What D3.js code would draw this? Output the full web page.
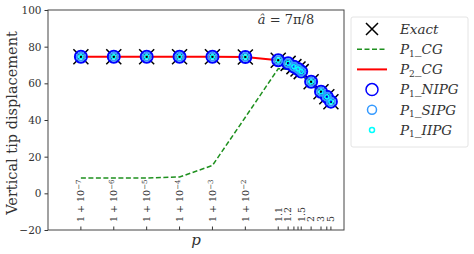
<!DOCTYPE html>
<html>
<head>
<meta charset="utf-8">
<script src="https://cdn.jsdelivr.net/npm/d3@7"></script>
<style>
  body { margin: 0; background: white; }
  text { font-family: "DejaVu Serif", serif; }
</style>
</head>
<body>
<div id="chart"></div>
<script>
// p - 1 for every sample point
var pm1 = [1e-7, 1e-6, 1e-5, 1e-4, 1e-3, 1e-2, 0.1, 0.2, 0.3, 0.4, 0.5, 1, 2, 3, 4];
var exact = [74.5, 74.5, 74.5, 74.5, 74.5, 74.4, 72.6, 70.9, 69.1, 67.8, 66.4, 60.9, 55.4, 52.7, 50.0];
var p1cg  = [8.3, 8.3, 8.4, 8.9, 15.2, 41.5, 68.0, 67.6, 66.7, 65.8, 64.8, 59.6, 54.3, 51.6, 49.0];
var p2cg  = [74.5, 74.5, 74.5, 74.5, 74.5, 74.4, 72.6, 70.9, 69.1, 67.8, 66.4, 60.9, 55.4, 52.7, 50.0];
var nipg  = [74.5, 74.5, 74.5, 74.5, 74.5, 74.4, 72.6, 70.9, 69.1, 67.8, 66.4, 60.9, 55.4, 52.7, 50.0];
var sipg  = [74.5, 74.5, 74.5, 74.5, 74.5, 74.4, 72.6, 70.9, 69.1, 67.8, 66.4, 60.9, 55.4, 52.7, 50.0];
var iipg  = [74.5, 74.5, 74.5, 74.5, 74.5, 74.4, 72.6, 70.9, 69.1, 67.8, 66.4, 60.9, 55.4, 52.7, 50.0];

// labelled ticks: exponent labels and plain p labels
var expTicks = [1e-7, 1e-6, 1e-5, 1e-4, 1e-3, 1e-2];
var expLabels = ["\u22127", "\u22126", "\u22125", "\u22124", "\u22123", "\u22122"];
var plainTicks = [0.1, 0.2, 0.5, 1, 2, 4];
var plainLabels = ["1.1", "1.2", "1.5", "2", "3", "5"];
var yTicks = [-20, 0, 20, 40, 60, 80, 100];

var W = 474, H = 254;
var L = 48, R = 344, T = 10, B = 230;

var svg = d3.select("#chart").append("svg")
  .attr("width", W).attr("height", H);

var x = d3.scaleLog().domain([1e-8, 10]).range([L, R]);
var y = d3.scaleLinear().domain([-20, 100]).range([B, T]);

// y axis
var yAxis = svg.append("g")
  .attr("transform", "translate(" + L + ",0)")
  .call(d3.axisLeft(y).tickValues(yTicks).tickSize(3.5).tickPadding(3)
    .tickFormat(d => d < 0 ? "\u2212" + Math.abs(d) : d));
yAxis.select(".domain").remove();
yAxis.selectAll("text").attr("font-size", 10.5).attr("fill", "#333").attr("font-family", "DejaVu Serif");
yAxis.selectAll("line").attr("stroke", "#333");

// x ticks inside, pointing up
svg.selectAll("xtick")
  .data(pm1)
  .enter()
  .append("line")
  .attr("x1", d => x(d)).attr("x2", d => x(d))
  .attr("y1", B).attr("y2", B - 3.5)
  .attr("stroke", "#333");

var expG = svg.selectAll("explab")
  .data(expTicks)
  .enter()
  .append("text")
  .attr("transform", d => "translate(" + x(d) + "," + (B - 8) + ") rotate(-90)")
  .attr("dy", "0.35em")
  .attr("font-size", 9.5)
  .attr("fill", "#333");
expG.append("tspan").text("1 + 10");
expG.append("tspan").attr("dy", "-0.45em").attr("font-size", 7).text((d, i) => expLabels[i]);

svg.selectAll("plainlab")
  .data(plainTicks)
  .enter()
  .append("text")
  .attr("transform", d => "translate(" + x(d) + "," + (B - 8) + ") rotate(-90)")
  .attr("dy", "0.35em")
  .attr("font-size", 9.5)
  .attr("fill", "#333")
  .text((d, i) => plainLabels[i]);

// lines
var line = d3.line().x(d => x(d[0])).y(d => y(d[1]));

svg.append("path")
  .attr("d", line(pm1.map((d, i) => [d, p1cg[i]])))
  .attr("fill", "none").attr("stroke", "#1e901e").attr("stroke-width", 1.5)
  .attr("stroke-dasharray", "5,2.5");

svg.append("path")
  .attr("d", line(pm1.map((d, i) => [d, p2cg[i]])))
  .attr("fill", "none").attr("stroke", "red").attr("stroke-width", 2);

// exact markers
var s = 7.5;
svg.selectAll("exact")
  .data(pm1)
  .enter()
  .append("path")
  .attr("d", (d, i) => {
    var cx = x(d), cy = y(exact[i]);
    return "M" + (cx - s) + "," + (cy - s) + "L" + (cx + s) + "," + (cy + s) +
      "M" + (cx - s) + "," + (cy + s) + "L" + (cx + s) + "," + (cy - s);
  })
  .attr("stroke", "black").attr("stroke-width", 1.5);

svg.selectAll("nipg")
  .data(pm1)
  .enter()
  .append("circle")
  .attr("cx", d => x(d)).attr("cy", (d, i) => y(nipg[i]))
  .attr("r", 6).attr("fill", "none").attr("stroke", "#0000ff").attr("stroke-width", 2);

svg.selectAll("sipg")
  .data(pm1)
  .enter()
  .append("circle")
  .attr("cx", d => x(d)).attr("cy", (d, i) => y(sipg[i]))
  .attr("r", 4).attr("fill", "none").attr("stroke", "#3399ff").attr("stroke-width", 2);

svg.selectAll("iipg")
  .data(pm1)
  .enter()
  .append("circle")
  .attr("cx", d => x(d)).attr("cy", (d, i) => y(iipg[i]))
  .attr("r", 2).attr("fill", "none").attr("stroke", "cyan").attr("stroke-width", 1.5);

// frame
svg.append("rect")
  .attr("x", L).attr("y", T).attr("width", R - L).attr("height", B - T)
  .attr("fill", "none").attr("stroke", "#444").attr("stroke-width", 1);

// annotation
var ann = svg.append("text")
  .attr("x", 286).attr("y", 24)
  .attr("text-anchor", "middle")
  .attr("font-size", 13)
  .attr("fill", "#333");
ann.append("tspan").attr("font-style", "italic").text("\u00e2");
ann.append("tspan").text(" = 7\u03c0/8");

// axis labels
svg.append("text")
  .attr("transform", "translate(17," + ((T + B) / 2 + 3) + ") rotate(-90)")
  .attr("text-anchor", "middle")
  .attr("font-size", 14.5)
  .attr("fill", "#333")
  .text("Vertical tip displacement");

svg.append("text")
  .attr("x", (L + R) / 2).attr("y", 245)
  .attr("text-anchor", "middle")
  .attr("font-size", 15)
  .attr("font-style", "italic")
  .attr("fill", "#333")
  .text("p");

// legend
var lg = svg.append("g");
lg.append("rect")
  .attr("x", 351).attr("y", 17).attr("width", 117).attr("height", 130)
  .attr("rx", 2).attr("fill", "white").attr("stroke", "#e4e4e4");

var legNames = ["Exact", "P1_CG", "P2_CG", "P1_NIPG", "P1_SIPG", "P1_IIPG"];
var legY = d3.scalePoint().domain(legNames).range([29, 130]);
var hx = 372;

lg.append("path")
  .attr("d", "M" + (hx - 6) + "," + (legY("Exact") - 6) + "L" + (hx + 6) + "," + (legY("Exact") + 6) +
    "M" + (hx - 6) + "," + (legY("Exact") + 6) + "L" + (hx + 6) + "," + (legY("Exact") - 6))
  .attr("stroke", "black").attr("stroke-width", 1.5);
lg.append("line")
  .attr("x1", hx - 15).attr("x2", hx + 15).attr("y1", legY("P1_CG")).attr("y2", legY("P1_CG"))
  .attr("stroke", "#1e901e").attr("stroke-width", 1.5).attr("stroke-dasharray", "5,2.5");
lg.append("line")
  .attr("x1", hx - 15).attr("x2", hx + 15).attr("y1", legY("P2_CG")).attr("y2", legY("P2_CG"))
  .attr("stroke", "red").attr("stroke-width", 2);
lg.append("circle").attr("cx", hx).attr("cy", legY("P1_NIPG")).attr("r", 6)
  .attr("fill", "none").attr("stroke", "#0000ff").attr("stroke-width", 1.5);
lg.append("circle").attr("cx", hx).attr("cy", legY("P1_SIPG")).attr("r", 4.5)
  .attr("fill", "none").attr("stroke", "#3399ff").attr("stroke-width", 1.5);
lg.append("circle").attr("cx", hx).attr("cy", legY("P1_IIPG")).attr("r", 2.5)
  .attr("fill", "none").attr("stroke", "cyan").attr("stroke-width", 1.5);

legNames.forEach(function (n) {
  var t = lg.append("text")
    .attr("x", 400).attr("y", legY(n))
    .attr("dy", "0.35em")
    .attr("font-size", 13.5)
    .attr("font-style", "italic")
    .attr("fill", "#333");
  if (n == "Exact") {
    t.text("Exact");
  } else {
    var parts = n.split("_");
    t.append("tspan").text("P");
    t.append("tspan").attr("dy", "0.3em").attr("font-size", 9).attr("font-style", "normal").text(parts[0].slice(1));
    t.append("tspan").attr("dy", "-0.2em").attr("font-style", "normal").text("_");
    t.append("tspan").text(parts[1]);
  }
});
</script>
</body>
</html>
